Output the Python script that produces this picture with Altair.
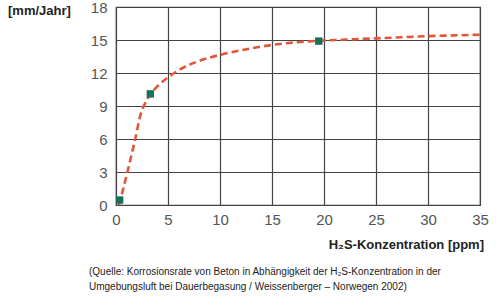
import altair as alt
import pandas as pd

# curve
curve_x = [0.3, 0.7, 1.1, 1.5, 1.85, 2.3, 3.0, 4.0, 5.0, 6.5, 8.0, 10.0, 12.5, 15.0, 17.5, 20.0, 22.5, 25.0, 27.5, 30.0, 32.5, 35.0]
curve_y = [0.0, 1.5, 3.0, 4.6, 6.0, 8.0, 9.6, 10.8, 11.6, 12.5, 13.1, 13.65, 14.15, 14.55, 14.8, 14.95, 15.05, 15.15, 15.25, 15.35, 15.42, 15.48]
# measured points
pts_x = [0.35, 3.3, 19.5]
pts_y = [0.45, 10.1, 14.9]

x_ticks = [0, 5, 10, 15, 20, 25, 30, 35]
y_ticks = [0, 3, 6, 9, 12, 15, 18]

y_unit = "[mm/Jahr]"
x_title = "H₂S-Konzentration [ppm]"
caption_1 = "(Quelle: Korrosionsrate von Beton in Abhängigkeit der H₂S-Konzentration in der"
caption_2 = "Umgebungsluft bei  Dauerbegasung / Weissenberger – Norwegen 2002)"

curve = pd.DataFrame({"x": curve_x, "y": curve_y})
pts = pd.DataFrame({"x": pts_x, "y": pts_y})

xs = alt.Scale(domain=[0, 35], nice=False)
ys = alt.Scale(domain=[0, 18], nice=False)

xaxis = alt.Axis(values=x_ticks, tickCount=8, grid=True, gridColor="#444444", gridWidth=1.2,
                 domain=False, ticks=False, labelPadding=7, labelFontSize=15,
                 labelColor="#555555", labelFont="Liberation Sans", title=None,
                 labelOverlap=False, labelFlush=False)
yaxis = alt.Axis(values=y_ticks, tickCount=7, grid=True, gridColor="#444444", gridWidth=1.2,
                 domain=True, domainColor="#444444", ticks=False, labelPadding=9,
                 labelFontSize=15, labelColor="#555555", labelFont="Liberation Sans", title=None,
                 labelOverlap=False, labelFlush=False)

line = alt.Chart(curve).mark_line(color="#e2563a", strokeWidth=2.6, strokeDash=[7, 4],
                                  interpolate="monotone").encode(
    x=alt.X("x:Q", scale=xs, axis=xaxis),
    y=alt.Y("y:Q", scale=ys, axis=yaxis),
)

points = alt.Chart(pts).mark_square(color="#17705a", size=55, opacity=1).encode(
    x=alt.X("x:Q", scale=xs, axis=xaxis),
    y=alt.Y("y:Q", scale=ys, axis=yaxis),
)


def label(txt, px, py, size, weight="normal", align="left"):
    return alt.Chart(pd.DataFrame({"t": [txt]})).mark_text(
        align=align, baseline="middle", fontSize=size, fontWeight=weight,
        font="Liberation Sans", color="#222222").encode(
        x=alt.value(px), y=alt.value(py), text="t:N")


unit = label(y_unit, -108, 4, 13, "bold")
xt = label(x_title, 368, 238, 13, "bold", "right")
cap1 = label(caption_1, -27, 265, 10)
cap2 = label(caption_2, -27, 280, 10)

chart = alt.layer(line, points, unit, xt, cap1, cap2).properties(
    width=364, height=198,
    autosize=alt.AutoSizeParams(type="none"),
    padding={"left": 116, "top": 7, "right": 20, "bottom": 97},
    background="white",
).configure_view(stroke="#444444", strokeWidth=1.2)

chart.save("out.html", embed_options={"renderer": "svg", "actions": False})
